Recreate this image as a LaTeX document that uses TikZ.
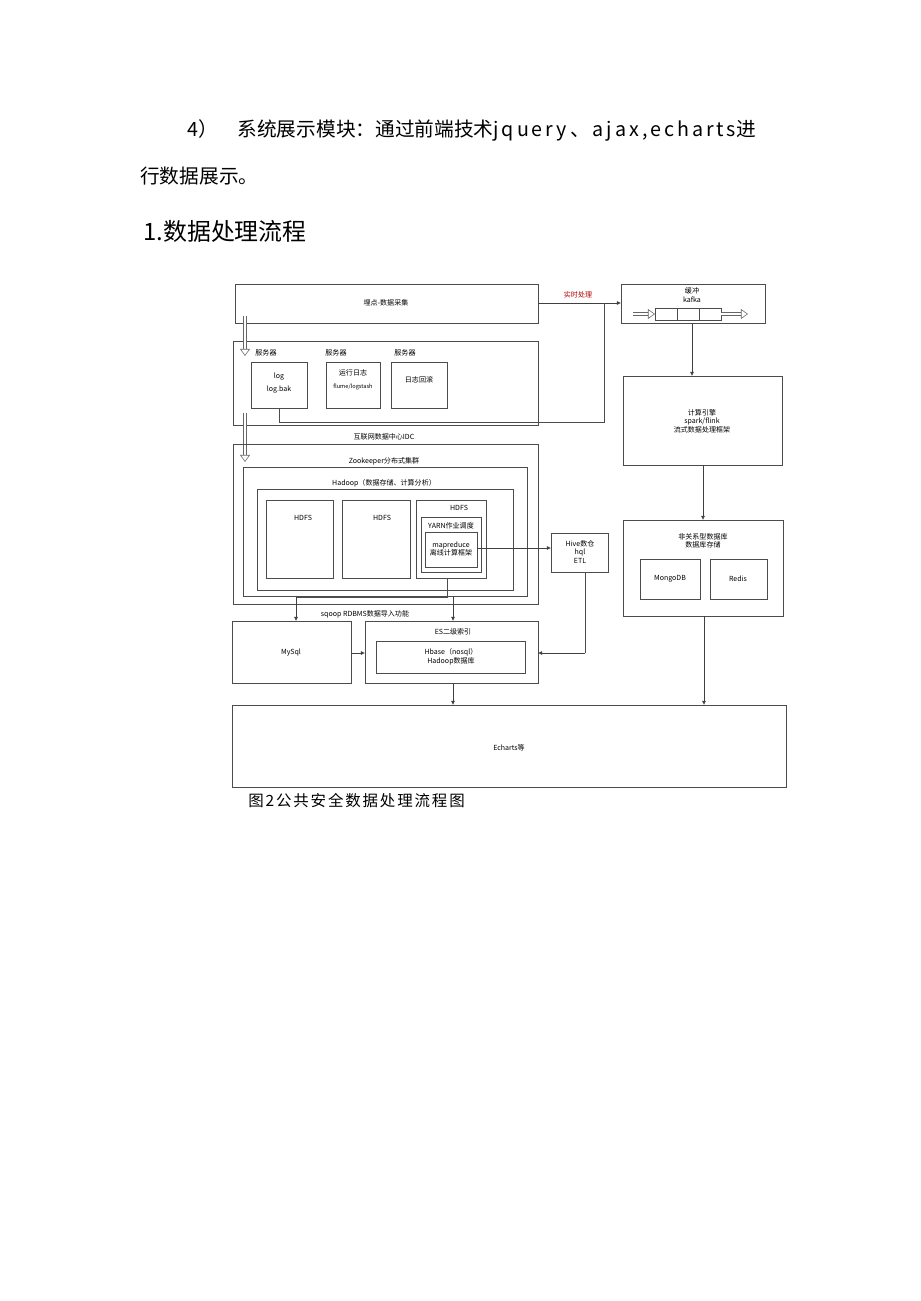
\documentclass[tikz,border=0pt]{standalone}
\usepackage{fontspec}
\setmainfont{Noto Sans CJK SC}
\usetikzlibrary{positioning,calc,arrows.meta}
\tikzset{
  box/.style={draw=black!70,line width=0.5pt},
  lbl/.style={font=\fontsize{5}{6}\selectfont,align=center,inner sep=0pt},
  arr/.style={-{Latex[length=3pt,width=3pt]},draw=black!75,line width=0.5pt},
  hollow/.style={double=white,double distance=1.6pt,draw=black!60,line width=0.4pt,-{Triangle[open,length=5pt,width=7pt]}},
  body/.style={font=\fontsize{14}{16}\selectfont,anchor=west,inner sep=0pt}
}
\begin{document}
\begin{tikzpicture}[x=0.025cm,y=-0.025cm]
	\useasboundingbox (0,0) rectangle (920,1301);
	% page text
	\node[body] (line1) at (187,130) {4）\quad 系统展示模块：通过前端技术{\addfontfeature{LetterSpace=15}jquery、ajax,echarts}进};
	\node[body] (line2) at (140,176) {行数据展示。};
	\node[body,font=\fontsize{17}{20}\selectfont] (head) at (143,231) {1.数据处理流程};
	
	% top row
	\draw[box] (235,284) rectangle (538,323);
	\node[lbl] (collect) at (386,303) {埋点-数据采集};
	\draw[box] (621,284) rectangle (765,323);
	\node[lbl] (kafka) at (692,295) {缓冲\\kafka};
	\foreach \x in {655,677,699} \draw[box] (\x,308) rectangle ++(22,12);
	\draw[hollow] (633,314) -- (655,314);
	\draw[hollow] (721,314) -- (748,314);
	\node[lbl,text=red!70!black] (rt) at (578,295) {实时处理};
	\coordinate (cin) at (538,303);
	\coordinate (kin) at (621,303);
	\draw[arr] (cin) -- (kin);
	
	% servers
	\draw[box] (233,341) rectangle (538,425);
	\foreach \x in {266,336,405} \node[lbl] at (\x,353) {服务器};
	\draw[box] (251,362) rectangle (307,408);
	\node[lbl] (log) at (279,383) {log\\[3pt]log.bak};
	\draw[box] (326,362) rectangle (380,408);
	\node[lbl] (run) at (353,380) {运行日志\\[3pt]{\fontsize{4}{5}\selectfont flume/logstash}};
	\draw[box] (391,362) rectangle (447,408);
	\node[lbl] (back) at (419,380) {日志回滚};
	\draw[box] (279,408) -- (279,422) -- (604,422) -- (604,303);
	\draw[hollow] (245,316) -- (245,356);
	\draw[hollow] (245,413) -- (245,462);
	
	% IDC
	\node[lbl] (idc) at (384,437) {互联网数据中心IDC};
	\draw[box] (233,444) rectangle (538,604);
	\node[lbl] (zk) at (384,461) {Zookeeper分布式集群};
	\draw[box] (243,467) rectangle (527,596);
	\node[lbl] (hadoop) at (384,483) {Hadoop（数据存储、计算分析）};
	\draw[box] (257,489) rectangle (513,590);
	\draw[box] (266,500) rectangle (333,578);
	\node[lbl] (h1) at (303,518) {HDFS};
	\draw[box] (342,500) rectangle (410,578);
	\node[lbl] (h2) at (382,518) {HDFS};
	\draw[box] (416,500) rectangle (486,578);
	\node[lbl] (h3) at (459,508) {HDFS};
	\draw[box] (421,517) rectangle (481,572);
	\node[lbl] (yarn) at (451,526) {YARN作业调度};
	\draw[box] (425,532) rectangle (477,567);
	\node[lbl] (mr) at (451,549) {mapreduce\\离线计算框架};
	
	% hive
	\draw[box] (551,533) rectangle (608,572);
	\node[lbl] (hive) at (580,552) {Hive数仓\\hql\\ETL};
	\draw[arr] (477,548) -- (551,548);
	
	% lower row
	\draw[box] (232,621) rectangle (351,683);
	\node[lbl] (mysql) at (291,653) {MySql};
	\draw[box] (365,621) rectangle (538,683);
	\node[lbl] (es) at (453,632) {ES二级索引};
	\draw[box] (376,641) rectangle (525,673);
	\node[lbl] (hbase) at (451,657) {Hbase（nosql）\\Hadoop数据库};
	\node[lbl] (sqoop) at (365,614) {sqoop RDBMS数据导入功能};
	\draw[box] (447,578) -- (447,597) -- (296,597);
	\draw[arr] (296,597) -- (296,621);
	\draw[arr] (453,597) -- (453,621);
	\draw[arr] (351,653) -- (365,653);
	\draw[box] (585,572) -- (585,653);
	\draw[arr] (585,653) -- (538,653);
	
	% right column
	\draw[box] (623,376) rectangle (782,465);
	\node[lbl] (engine) at (702,421) {计算引擎\\spark/flink\\流式数据处理框架};
	\draw[arr] (692,323) -- (692,376);
	\draw[box] (623,520) rectangle (783,616);
	\node[lbl] (nosql) at (703,541) {非关系型数据库\\数据库存储};
	\draw[box] (640,559) rectangle (700,599);
	\node[lbl] (mongo) at (670,579) {MongoDB};
	\draw[box] (710,559) rectangle (767,599);
	\node[lbl] (redis) at (738,579) {Redis};
	\draw[arr] (703,465) -- (703,520);
	
	% echarts
	\draw[box] (232,705) rectangle (786,787);
	\node[lbl] (echarts) at (509,748) {Echarts等};
	\draw[arr] (704,616) -- (704,705);
	\draw[arr] (453,683) -- (453,705);
	
	\node[body,font=\fontsize{11}{13}\selectfont\addfontfeature{LetterSpace=12}] (cap) at (248,801) {图2公共安全数据处理流程图};
\end{tikzpicture}
\end{document}
